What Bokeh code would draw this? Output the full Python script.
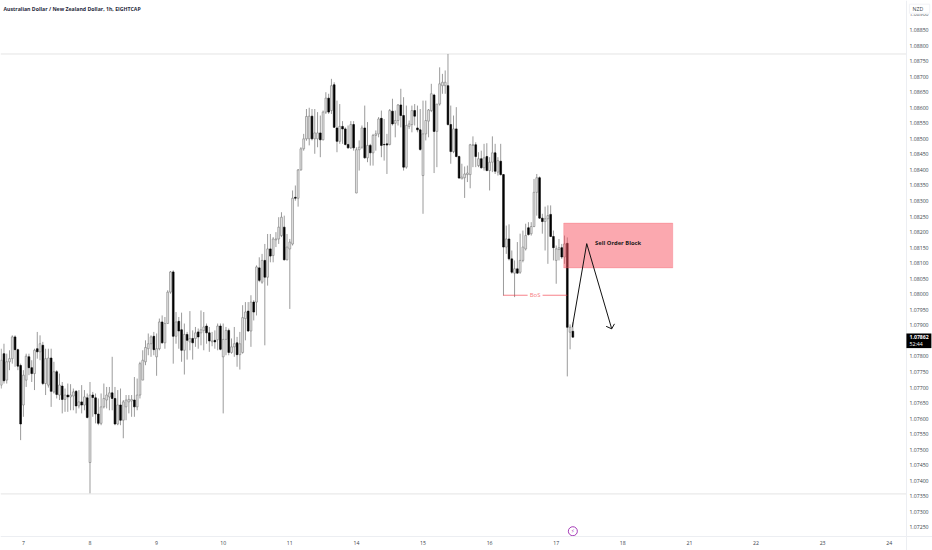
from bokeh.plotting import figure
from bokeh.embed import file_html
from bokeh.resources import INLINE
from bokeh.models import FixedTicker, PrintfTickFormatter, Label
from bokeh.core.properties import value

# Prices are stored as points above BASE (1 point = 0.00001)
BASE = 1.07
opens = [708,809,724,783,793,863,822,771,644,724,
799,764,745,825,815,836,713,708,795,686,
751,676,705,662,676,670,673,688,641,654,
644,667,459,676,667,615,585,638,660,670,
683,665,583,644,595,638,654,657,660,638,
676,724,783,825,841,865,799,825,911,844,
906,1007,1072,865,913,886,820,871,847,858,
858,879,876,884,898,876,847,852,854,898,
799,855,884,813,831,844,806,813,922,946,
882,975,975,1085,1039,1109,1055,1146,1125,1175,
1178,1189,1216,1111,1146,1162,1312,1309,1400,1468,
1500,1500,1573,1500,1500,1519,1497,1586,1631,1591,
1674,1535,1492,1540,1532,1482,1471,1546,1326,1465,
1473,1535,1439,1479,1455,1511,1516,1566,1482,1484,
1482,1589,1550,1559,1609,1575,1409,1540,1546,1591,
1535,1529,1382,1516,1557,1591,1641,1524,1612,1671,
1671,1671,1546,1459,1532,1443,1371,1375,1385,1385,
1479,1481,1414,1436,1407,1443,1398,1425,1455,1393,
1428,1385,1152,1178,1114,1068,1082,1071,1109,1146,
1214,1195,1218,1328,1375,1245,1234,1243,1257,1186,
1109,1144,1150,1120,1164,878,881]
closes = [788,722,783,793,863,822,769,583,740,801,
764,745,820,815,841,713,793,795,688,751,
678,708,662,676,670,676,686,641,654,644,
670,604,676,668,615,585,638,665,676,683,
665,583,644,595,654,660,662,662,638,676,
777,788,829,841,863,822,825,911,844,906,
1007,1072,865,911,882,820,871,852,858,844,
876,863,886,895,876,850,850,847,898,823,
855,884,813,831,841,806,841,925,943,882,
975,943,1088,1045,1109,1055,1146,1123,1178,1178,
1216,1248,1111,1152,1168,1309,1309,1400,1468,1500,
1572,1573,1500,1519,1519,1497,1586,1631,1586,1671,
1537,1492,1540,1532,1482,1471,1546,1471,1465,1473,
1535,1439,1479,1455,1511,1516,1564,1479,1481,1480,
1591,1548,1559,1609,1575,1409,1543,1548,1591,1573,
1529,1466,1516,1559,1593,1645,1524,1612,1677,1682,
1682,1546,1459,1532,1443,1374,1377,1387,1390,1481,
1481,1443,1436,1407,1439,1398,1425,1455,1396,1430,
1385,1152,1178,1114,1071,1082,1068,1109,1152,1189,
1192,1218,1328,1375,1245,1234,1243,1253,1186,1150,
1146,1150,1120,1162,894,894,862]
highs = [825,841,809,820,868,868,825,777,756,809,
809,788,825,879,868,847,825,825,825,783,
756,745,718,697,713,711,697,692,692,708,
692,681,718,686,681,665,681,713,702,702,
799,702,692,697,660,676,676,676,734,729,
783,820,852,874,868,879,874,922,932,927,
1013,1075,1077,943,927,941,906,879,946,884,
895,890,948,943,906,895,879,884,906,906,
906,895,890,858,895,863,879,965,975,975,
997,981,1093,1119,1130,1162,1194,1194,1184,1200,
1248,1264,1253,1194,1178,1334,1350,1403,1473,1516,
1596,1600,1596,1596,1586,1575,1591,1650,1645,1693,
1682,1623,1612,1557,1537,1543,1557,1557,1473,1495,
1543,1607,1554,1484,1516,1527,1570,1591,1564,1516,
1596,1629,1591,1612,1661,1634,1607,1559,1607,1612,
1607,1596,1623,1623,1596,1677,1645,1612,1730,1709,
1720,1773,1607,1575,1602,1446,1420,1411,1414,1484,
1508,1489,1457,1462,1484,1486,1441,1508,1484,1441,
1484,1387,1221,1225,1141,1109,1168,1195,1205,1227,
1232,1232,1371,1387,1379,1259,1282,1286,1286,1205,
1157,1178,1162,1189,1183,903,910]
lows = [697,713,713,756,777,767,756,531,606,702,
740,718,692,793,788,708,676,700,638,681,
665,660,617,622,622,627,627,617,633,617,
627,601,360,606,585,579,579,633,633,627,
627,579,579,579,537,595,617,606,606,627,
665,724,772,804,799,804,738,820,841,825,
906,1002,777,841,825,783,742,790,820,790,
831,825,836,820,841,815,833,825,820,820,
617,804,804,809,799,767,758,809,852,879,
831,916,932,1039,1034,836,1028,1103,1103,1152,
1162,1184,1109,1109,953,1157,1301,1282,1398,1462,
1494,1479,1495,1452,1473,1441,1495,1580,1580,1580,
1535,1457,1484,1484,1479,1468,1468,1462,1325,1398,
1468,1436,1425,1414,1414,1462,1505,1441,1430,1387,
1479,1543,1505,1543,1537,1398,1404,1532,1521,1543,
1521,1462,1259,1495,1505,1586,1390,1409,1607,1645,
1645,1543,1420,1454,1441,1371,1371,1310,1361,1341,
1409,1409,1409,1404,1398,1396,1334,1393,1387,1382,
1382,996,1130,1109,1066,991,1066,1066,1103,1141,
1189,1189,1216,1253,1243,1195,1141,1098,1184,1109,
1034,1109,1114,1098,736,823,862]

price_ticks = ["1.07250","1.07300","1.07350","1.07400","1.07450","1.07500","1.07550","1.07600",
               "1.07650","1.07700","1.07750","1.07800","1.07850","1.07900","1.07950","1.08000",
               "1.08050","1.08100","1.08150","1.08200","1.08250","1.08300","1.08350","1.08400",
               "1.08450","1.08500","1.08550","1.08600","1.08650","1.08700","1.08750","1.08800",
               "1.08850","1.08900"]
day_labels = ["7","8","9","10","11","14","15","16","17","18","21","22","23","24"]
day_index = [8,32,56,80,104,128,152,176,200,224,248,272,296,320]

range_top = 1.08773
range_bottom = 1.07358
pane_right = 326.2
pane_bottom = 1.07221
block_x = [202.7, 242.0]
block_y = [1.08085, 1.08229]
bos_price = 1.07997
bos_left = [180.9, 189.7]
bos_right = [195.1, 204.0]
path_x = [205.8, 211.0, 220.0]
path_y = [1.07894, 1.08163, 1.07889]
head_x = [218.0, 220.0, 221.0]
head_y = [1.07897, 1.07889, 1.07905]
last_price = 1.07862

assert len(opens) == len(closes) == len(highs) == len(lows)
idx = list(range(len(opens)))
to_price = lambda v: [BASE + a / 1e5 for a in v]
o, c, h, l = map(to_price, (opens, closes, highs, lows))
up = [i for i in idx if c[i] >= o[i]]
dn = [i for i in idx if c[i] < o[i]]

p = figure(width=932, height=550, frame_width=932, frame_height=550,
           x_range=(-0.25, 335.6), y_range=(1.07176, 1.08945),
           y_axis_location="right", output_backend="svg", toolbar_location=None,
           background_fill_color="white", border_fill_color="white",
           min_border=0, outline_line_color=None)
p.grid.visible = False

ya = p.yaxis[0]
ya.fixed_location = pane_right
ya.ticker = FixedTicker(ticks=[float(t) for t in price_ticks])
ya.formatter = PrintfTickFormatter(format="%.5f")
xa = p.xaxis[0]
xa.fixed_location = pane_bottom
xa.ticker = FixedTicker(ticks=day_index)
xa.major_label_overrides = {k: v for k, v in zip(day_index, day_labels)}
for a in (xa, ya):
    a.axis_line_color = "#eceef2"
    a.major_tick_line_color = None
    a.minor_tick_line_color = None
    a.major_tick_in = 0
    a.major_tick_out = 0
    a.minor_tick_in = 0
    a.minor_tick_out = 0
    a.major_label_text_font = "Open Sans"
    a.major_label_text_font_size = "5.2px"
    a.major_label_text_color = "#3a3f4a"
    a.major_label_standoff = 3
xa.major_label_standoff = 4

for level in (range_top, range_bottom):
    p.line([-0.25, pane_right], [level, level], line_color="#e4e4e4", line_width=1)

p.segment(idx, l, idx, h, line_color="#828282", line_width=0.8)
p.vbar([idx[i] for i in up], 0.68, [o[i] for i in up], [c[i] for i in up],
       fill_color="#e4e4e4", line_color="#777777", line_width=0.55)
p.vbar([idx[i] for i in dn], 0.62, [c[i] for i in dn], [o[i] for i in dn],
       fill_color="#000000", line_color="#000000", line_width=0.6)

p.quad(left=[block_x[0]], right=[block_x[1]], bottom=[block_y[0]], top=[block_y[1]],
       fill_color="#f7525f", fill_alpha=0.5, line_color="#f7525f", line_alpha=0.25)
p.text([222.3], [1.08164], text=["Sell Order Block"], text_font=value("Open Sans"),
       text_font_style="bold", text_font_size="5.8px", text_color="#1a1a1a",
       text_align="center", text_baseline="middle")

p.line(bos_left, [bos_price, bos_price], line_color="#f23645", line_width=0.9, line_alpha=0.7)
p.line(bos_right, [bos_price, bos_price], line_color="#f23645", line_width=0.9, line_alpha=0.7)
p.text([192.4], [bos_price], text=["BoS"], text_font=value("Open Sans"), text_font_size="6px",
       text_color="#f77c80", text_align="center", text_baseline="middle")

p.line(path_x, path_y, line_color="#111111", line_width=1)
p.line(head_x, head_y, line_color="#111111", line_width=1)

p.scatter([206.0], [1.07238], marker="circle", size=9, fill_color="white",
          line_color="#9c27b0", line_width=0.9)
p.text([206.0], [1.07238], text=["\u26a1"], text_font=value("DejaVu Sans"), text_font_size="5px",
       text_color="#9c27b0", text_align="center", text_baseline="middle")

p.add_layout(Label(x=0.83, y=1.08929, text="Australian Dollar / New Zealand Dollar, 1h, EIGHTCAP",
                   text_font="Open Sans", text_font_size="5.2px", text_color="#1f2a3c",
                   text_font_style="bold", text_baseline="top"))

# currency box, above the axis labels
p.quad(left=[326.4], right=[335.6], bottom=[1.08901], top=[1.08945], fill_color="white",
       line_color=None, level="overlay")
p.quad(left=[327.3], right=[334.6], bottom=[1.08904], top=[1.08933], fill_color="white",
       line_color="#eceef2", line_width=0.7, level="overlay")
p.text([328.4], [1.08919], text=["NZD"], text_font=value("Open Sans"), text_font_size="5.2px",
       text_color="#3a3f4a", text_baseline="middle", level="overlay")

# last price box, above the axis labels
p.quad(left=[pane_right], right=[335.2], bottom=[1.07827], top=[1.07874], fill_color="black",
       line_color=None, level="overlay")
p.text([327.3], [last_price], text=[f"{last_price:.5f}"], text_font=value("Open Sans"),
       text_font_style="bold", text_font_size="5.2px", text_color="white",
       text_baseline="middle", level="overlay")
p.text([327.3], [1.07840], text=["52:44"], text_font=value("Open Sans"), text_font_size="5.2px",
       text_color="white", text_baseline="middle", level="overlay")

open("out.html", "w").write(file_html(p, INLINE))
